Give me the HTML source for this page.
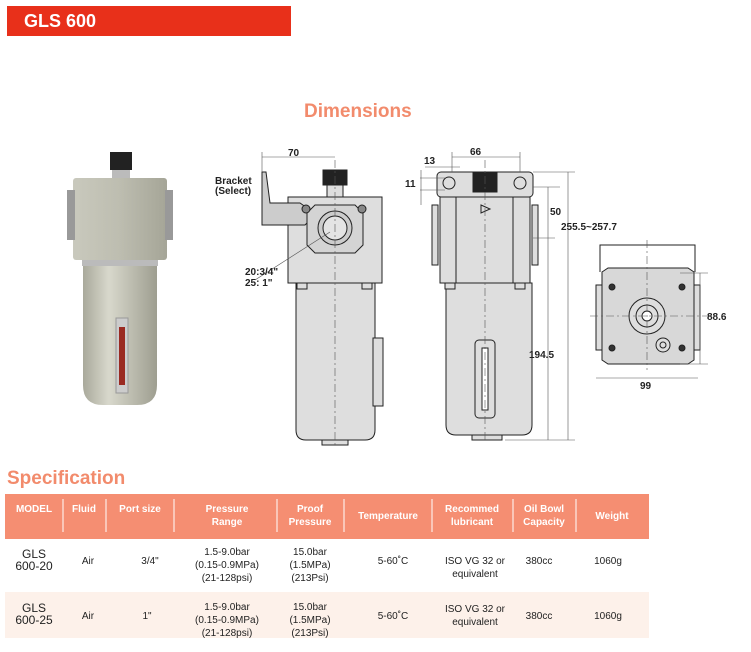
<!DOCTYPE html>
<html><head><meta charset="utf-8"><style>
body{margin:0;width:751px;height:647px;background:#fff;overflow:hidden;font-family:"Liberation Sans",sans-serif}
</style></head><body>
<svg width="751" height="647" viewBox="0 0 751 647" xmlns="http://www.w3.org/2000/svg" font-family="Liberation Sans, sans-serif">
<rect x="7" y="6" width="284" height="30" fill="#e8301a"/>
<text x="24" y="27" font-size="18" font-weight="bold" fill="#fff">GLS 600</text>
<text x="304" y="117" font-size="19" font-weight="bold" fill="#f28b6c">Dimensions</text>

<!-- photo -->
<defs>
<linearGradient id="bw" x1="0" x2="1"><stop offset="0" stop-color="#a9a99b"/><stop offset=".35" stop-color="#d8d8cc"/><stop offset="1" stop-color="#9e9e90"/></linearGradient>
<linearGradient id="hd" x1="0" x2="1"><stop offset="0" stop-color="#c9c9bd"/><stop offset=".5" stop-color="#bdbdb0"/><stop offset="1" stop-color="#a5a597"/></linearGradient>
</defs>
<rect x="110" y="152" width="22" height="18" fill="#222"/>
<rect x="112" y="170" width="18" height="8" fill="#bbb"/>
<rect x="73" y="178" width="94" height="82" rx="3" fill="url(#hd)"/>
<rect x="67" y="190" width="8" height="50" fill="#999"/>
<rect x="165" y="190" width="8" height="50" fill="#999"/>
<rect x="82" y="260" width="76" height="6" fill="#bbb"/>
<path d="M83 266 H157 V385 Q157 405 137 405 H103 Q83 405 83 385 Z" fill="url(#bw)"/>
<rect x="116" y="318" width="12" height="75" fill="#ccc" stroke="#999"/>
<rect x="119" y="327" width="6" height="58" fill="#9a2a22"/>

<g stroke="#222" stroke-width="1" fill="#dedede">
<!-- left drawing -->
<rect x="323" y="170" width="24" height="15" fill="#222"/>
<rect x="327" y="185" width="16" height="12"/>
<rect x="288" y="197" width="94" height="86"/>
<path d="M296 283 H375 V430 Q375 440 365 440 H306 Q296 440 296 430 Z"/>
<rect x="322" y="440" width="26" height="5"/>
<rect x="373" y="338" width="10" height="68"/>
<path d="M262 172 V225 H305 L320 210 H310 L300 203 H270 L266 172 Z" fill="#ccc"/>
<path d="M307 213 L315 205 H355 L363 213 V245 L355 253 H315 L307 245 Z" fill="#d4d4d4"/>
<circle cx="335" cy="228" r="17" fill="#ccc"/><circle cx="335" cy="228" r="12" fill="#e4e4e4"/>
<circle cx="306" cy="209" r="4" fill="#888"/><circle cx="362" cy="209" r="4" fill="#888"/>
<rect x="297" y="283" width="10" height="6"/><rect x="362" y="283" width="10" height="6"/>
<!-- middle drawing -->
<rect x="437" y="172" width="96" height="25" rx="4"/>
<rect x="473" y="172" width="24" height="20" fill="#222"/>
<circle cx="449" cy="183" r="6"/><circle cx="520" cy="183" r="6"/>
<rect x="440" y="197" width="90" height="86"/>
<line x1="456" y1="197" x2="456" y2="283"/><line x1="513" y1="197" x2="513" y2="283"/>
<rect x="432" y="205" width="6" height="60"/><rect x="532" y="205" width="6" height="60"/>
<path d="M446 283 H532 V425 Q532 435 522 435 H456 Q446 435 446 425 Z"/>
<rect x="472" y="435" width="30" height="5"/>
<rect x="475" y="340" width="20" height="78" rx="4"/>
<rect x="482" y="348" width="6" height="62" fill="#fff"/>
<rect x="445" y="283" width="10" height="6"/><rect x="515" y="283" width="10" height="6"/>
<path d="M481 205 L490 209 L481 213 Z" fill="none"/>
<!-- right view -->
<path d="M600 272 V245 H695 V272" fill="none"/>
<path d="M602 272 L608 268 H688 L694 272 V360 L688 364 H608 L602 360 Z" fill="#d8d8d8"/>
<rect x="596" y="285" width="6" height="65"/><rect x="694" y="285" width="6" height="65"/>
<circle cx="647" cy="316" r="18"/><circle cx="647" cy="316" r="11"/><circle cx="647" cy="316" r="5" fill="#fff"/>
<circle cx="663" cy="345" r="7"/><circle cx="663" cy="345" r="3"/>
<circle cx="612" cy="287" r="3" fill="#333"/><circle cx="682" cy="287" r="3" fill="#333"/>
<circle cx="612" cy="348" r="3" fill="#333"/><circle cx="682" cy="348" r="3" fill="#333"/>
</g>
<g stroke="#555" stroke-width=".6" fill="none">
<line x1="335" y1="160" x2="335" y2="445" stroke-dasharray="8 3 2 3"/>
<line x1="485" y1="160" x2="485" y2="440" stroke-dasharray="8 3 2 3"/>
<line x1="647" y1="240" x2="647" y2="370" stroke-dasharray="8 3 2 3"/>
<line x1="590" y1="316" x2="710" y2="316" stroke-dasharray="8 3 2 3"/>
<line x1="262" y1="157" x2="335" y2="157"/><line x1="262" y1="152" x2="262" y2="172"/>
<line x1="452" y1="157" x2="520" y2="157"/><line x1="452" y1="152" x2="452" y2="172"/><line x1="520" y1="152" x2="520" y2="172"/>
<line x1="425" y1="167" x2="460" y2="167"/>
<line x1="420" y1="178" x2="445" y2="178"/><line x1="420" y1="190" x2="445" y2="190"/><line x1="421" y1="170" x2="421" y2="205"/>
<line x1="548" y1="187" x2="548" y2="440"/><line x1="533" y1="187" x2="560" y2="187"/><line x1="533" y1="238" x2="555" y2="238"/>
<line x1="568" y1="172" x2="568" y2="440"/><line x1="533" y1="172" x2="575" y2="172"/><line x1="505" y1="440" x2="575" y2="440"/>
<line x1="700" y1="273" x2="700" y2="364"/><line x1="680" y1="273" x2="708" y2="273"/><line x1="680" y1="364" x2="708" y2="364"/>
<line x1="596" y1="378" x2="698" y2="378"/>
<line x1="255" y1="280" x2="330" y2="232"/>
</g>
<g font-size="10" font-weight="bold" fill="#222">
<text x="288" y="156">70</text>
<text x="215" y="184">Bracket</text><text x="215" y="194">(Select)</text>
<text x="245" y="275">20:3/4"</text><text x="245" y="286">25:  1"</text>
<text x="470" y="155">66</text>
<text x="424" y="164">13</text><text x="405" y="187">11</text>
<text x="550" y="215">50</text>
<text x="529" y="358">194.5</text>
<text x="561" y="230">255.5~257.7</text>
<text x="707" y="320">88.6</text>
<text x="640" y="389">99</text>
</g>

<text x="7" y="484" font-size="19" font-weight="bold" fill="#f28b6c">Specification</text>
<rect x="5" y="494" width="644" height="45" fill="#f58e72"/>
<rect x="5" y="592" width="644" height="46" fill="#fdf1ea"/>
<g stroke="#fff" stroke-width="1">
<line x1="63" y1="499" x2="63" y2="532"/><line x1="106" y1="499" x2="106" y2="532"/><line x1="174" y1="499" x2="174" y2="532"/>
<line x1="277" y1="499" x2="277" y2="532"/><line x1="344" y1="499" x2="344" y2="532"/><line x1="432" y1="499" x2="432" y2="532"/>
<line x1="513" y1="499" x2="513" y2="532"/><line x1="576" y1="499" x2="576" y2="532"/>
</g>
<g font-size="10" font-weight="bold" fill="#fff" text-anchor="middle">
<text x="34" y="512">MODEL</text><text x="84" y="512">Fluid</text><text x="140" y="512">Port size</text>
<text x="227" y="512">Pressure</text><text x="227" y="525">Range</text>
<text x="310" y="512">Proof</text><text x="310" y="525">Pressure</text>
<text x="388" y="519">Temperature</text>
<text x="472" y="512">Recommed</text><text x="472" y="525">lubricant</text>
<text x="544" y="512">Oil Bowl</text><text x="544" y="525">Capacity</text>
<text x="612" y="519">Weight</text>
</g>
<g font-size="10" fill="#222" text-anchor="middle">
<text x="34" y="558" font-size="12">GLS</text><text x="34" y="570" font-size="12">600-20</text>
<text x="88" y="564">Air</text><text x="150" y="564">3/4"</text>
<text x="227" y="555">1.5-9.0bar</text><text x="227" y="568">(0.15-0.9MPa)</text><text x="227" y="581">(21-128psi)</text>
<text x="310" y="555">15.0bar</text><text x="310" y="568">(1.5MPa)</text><text x="310" y="581">(213Psi)</text>
<text x="393" y="564">5-60˚C</text>
<text x="475" y="564">ISO VG 32 or</text><text x="475" y="577">equivalent</text>
<text x="539" y="564">380cc</text><text x="608" y="564">1060g</text>

<text x="34" y="612" font-size="12">GLS</text><text x="34" y="624" font-size="12">600-25</text>
<text x="88" y="619">Air</text><text x="147" y="619">1"</text>
<text x="227" y="610">1.5-9.0bar</text><text x="227" y="623">(0.15-0.9MPa)</text><text x="227" y="636">(21-128psi)</text>
<text x="310" y="610">15.0bar</text><text x="310" y="623">(1.5MPa)</text><text x="310" y="636">(213Psi)</text>
<text x="393" y="619">5-60˚C</text>
<text x="475" y="612">ISO VG 32 or</text><text x="475" y="625">equivalent</text>
<text x="539" y="619">380cc</text><text x="608" y="619">1060g</text>
</g>
</svg>
</body></html>
